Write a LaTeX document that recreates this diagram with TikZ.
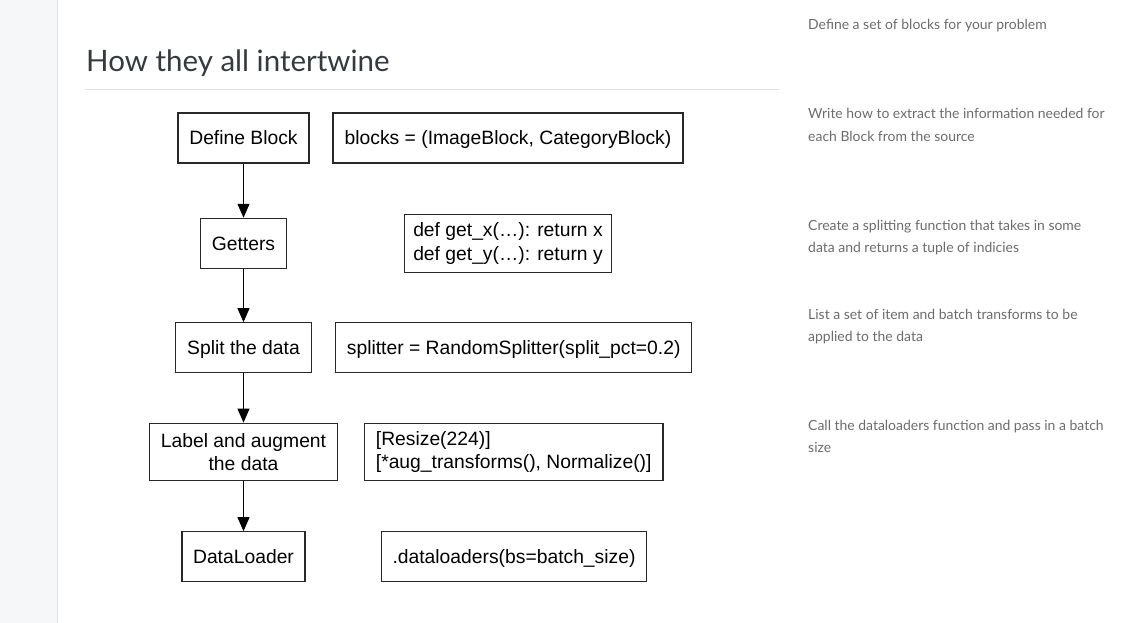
\documentclass[tikz,border=0pt]{standalone}
\usepackage{fontspec}
\setmainfont{Liberation Sans}
\newfontfamily\uifont{Lato}
\usetikzlibrary{arrows.meta}
\definecolor{titlegray}{RGB}{52,58,64}
\definecolor{notegray}{RGB}{108,108,108}
\definecolor{stripgray}{RGB}{246,247,249}
\definecolor{rulegray}{RGB}{226,226,226}
\definecolor{boxline}{RGB}{40,40,40}
\begin{document}
\begin{tikzpicture}[x=1pt,y=-1pt,
  box/.style={draw=boxline, line width=1.1pt, font=\fontsize{19.3}{23.5}\selectfont, inner sep=0pt, minimum height=50pt, align=center},
  onebox/.style={box, text height=13.8pt, text depth=0pt},
  flow/.style={-{Triangle[length=14pt,width=12pt]}, line width=1.1pt},
  note/.style={anchor=base west, inner sep=0pt, text=notegray, font=\uifont\fontsize{13.95}{22.5}\selectfont, align=left}]
\useasboundingbox (0,0) rectangle (1126,623);
\fill[white] (0,0) rectangle (1126,623);
\fill[stripgray] (0,0) rectangle (57,623);
\draw[rulegray, line width=1pt] (57.5,0) -- (57.5,623);

\node[anchor=base west, inner sep=0pt, text=titlegray, font=\uifont\fontsize{29.5}{36}\selectfont] (title) at (86,72) {How they all intertwine};
\draw[rulegray, line width=1pt] (85,89.5) -- (780,89.5);

\node[onebox, minimum width=131pt] (define) at (243.5,138) {Define Block};
\node[onebox, minimum width=350pt] (blocks) at (508,138) {blocks = (ImageBlock, CategoryBlock)};
\node[onebox, minimum width=86pt] (getters) at (243.5,243.3) {Getters};
\node[box, minimum width=207pt, minimum height=57.4pt] (getxy) at (508,243.5) {def get\_x(…): return x\\def get\_y(…): return y};
\node[onebox, minimum width=135.4pt] (split) at (243.5,347.7) {Split the data};
\node[onebox, minimum width=356pt] (splitter) at (513.7,347.7) {splitter = RandomSplitter(split\_pct=0.2)};
\node[box, minimum width=187.4pt, minimum height=57.7pt] (label) at (243.5,452) {Label and augment\\the data};
\node[box, minimum width=297.5pt, minimum height=57.7pt, align=left, inner xsep=11.5pt] (resize) at (513.7,452) {[Resize(224)]\\{}[*aug\_transforms(), Normalize()]};
\node[onebox, minimum width=123pt] (dl) at (243.5,556.7) {DataLoader};
\node[onebox, minimum width=265pt] (dls) at (514,556.7) {.dataloaders(bs=batch\_size)};

\draw[flow] (define.south) -- (getters.north);
\draw[flow] (getters.south) -- (split.north);
\draw[flow] (split.south) -- (label.north);
\draw[flow] (label.south) -- (dl.north);

\node[note] (n1) at (808,29.5) {Define a set of blocks for your problem};
\node[note] (n2) at (808,141.5) {Write how to extract the information needed for\\each Block from the source};
\node[note] (n3) at (808,252.5) {Create a splitting function that takes in some\\data and returns a tuple of indicies};
\node[note] (n4) at (808,341.5) {List a set of item and batch transforms to be\\applied to the data};
\node[note] (n5) at (808,452.5) {Call the dataloaders function and pass in a batch\\size};
\end{tikzpicture}
\end{document}
